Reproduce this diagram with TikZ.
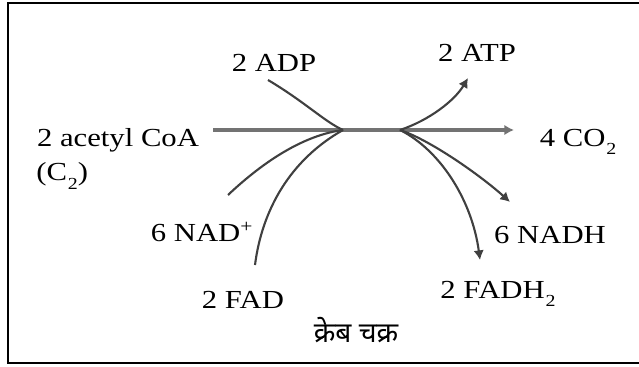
\documentclass[tikz,border=0pt]{standalone}
\usepackage{fontspec}
\setmainfont[FakeStretch=1.18]{Liberation Serif}
\newfontfamily\devfont[Script=Devanagari]{Noto Sans}
\usetikzlibrary{arrows.meta}
\newcommand{\chemsub}[1]{\kern0.6pt\raisebox{-0.7ex}{\fontsize{12}{12}\selectfont #1}}

\begin{document}
\begin{tikzpicture}[
    font=\fontsize{18.5}{20}\selectfont,
    label/.style={
        inner sep=0pt,
        text=black
    },
    flow/.style={
        line width=1.5pt,
        draw=black!75
    },
    flowarrow/.style={
        -{Latex[length=2.4mm,width=2.6mm]},
        line width=1.5pt,
        draw=black!75
    },
    mainline/.style={
        -{Latex[length=2.4mm,width=2.6mm]},
        line width=2.2pt,
        draw=black!55
    }
]

% Canvas
\useasboundingbox (0,0) rectangle (15.975,9.15);
\fill[white] (0,0) rectangle (15.975,9.15);

% Frame (open at the right edge)
\draw[line width=2pt] (16.2,9.075) -- (0.2,9.075) -- (0.2,0.075) -- (16.2,0.075);

% Labels
\node[label] (adp) at (6.85,7.575) {2 ADP};
\node[label] (atp) at (11.925,7.825) {2 ATP};
\node[label] (acoa) at (2.95,5.65) {2 acetyl CoA};
\node[label, anchor=west] (ctwo) at (0.9,4.75) {(C\chemsub{2})};
\node[label] (nad) at (5.05,3.35) {6 NAD\textsuperscript{+}};
\node[label] (fad) at (6.075,1.65) {2 FAD};
\node[label] (co2) at (14.45,5.6) {4 CO\chemsub{2}};
\node[label] (nadh) at (13.75,3.275) {6 NADH};
\node[label] (fadh) at (12.45,1.8) {2 FADH\chemsub{2}};
\node[label, font=\devfont\bfseries\fontsize{20}{22}\selectfont] (krebs) at (8.9,0.9) {क्रेब चक्र};

% Junction points and free ends
\coordinate (hubL) at (8.575,5.9);
\coordinate (hubR) at (10.0,5.9);
\coordinate (acS) at (5.325,5.9);
\coordinate (co2E) at (12.85,5.9);
\coordinate (adpS) at (6.7,7.15);
\coordinate (nadS) at (5.7,4.275);
\coordinate (fadS) at (6.375,2.525);
\coordinate (atpE) at (11.7,7.2);
\coordinate (nadhE) at (12.75,4.1);
\coordinate (fadhE) at (12.0,2.65);

% Inputs
\draw[mainline] (acS) -- (co2E);
\draw[flow] (adpS) .. controls (7.625,6.6) and (8.125,6.1) .. (hubL);
\draw[flow] (nadS) .. controls (6.625,5.15) and (7.625,5.775) .. (hubL);
\draw[flow] (fadS) .. controls (6.55,3.9) and (7.25,5.15) .. (hubL);

% Outputs
\draw[flowarrow] (hubR) .. controls (10.75,6.15) and (11.375,6.65) .. (atpE);
\draw[flowarrow] (hubR) .. controls (10.75,5.65) and (12.0,4.775) .. (nadhE);
\draw[flowarrow] (hubR) .. controls (11.0,5.4) and (11.8,4.15) .. (fadhE);

\end{tikzpicture}
\end{document}
